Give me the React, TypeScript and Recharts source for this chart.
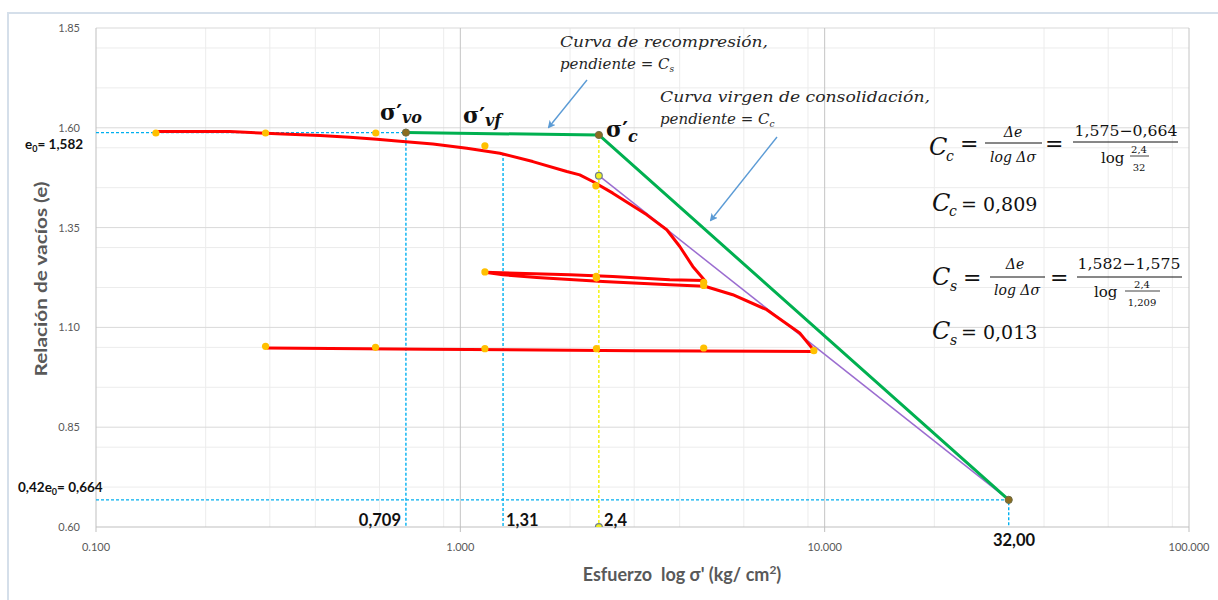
import React from 'react';
import { ScatterChart, Scatter, XAxis, YAxis, CartesianGrid } from 'recharts';

// ---------- axis ticks ----------
const xTicks = [0.1, 1, 10, 100];
const yTicks = [0.6, 0.85, 1.1, 1.35, 1.6, 1.85];
const xMinor = [0.2, 0.3, 0.4, 0.5, 0.6, 0.7, 0.8, 0.9, 2, 3, 4, 5, 6, 7, 8, 9, 20, 30, 40, 50, 60, 70, 80, 90];
const yMinor = [0.65, 0.7, 0.75, 0.8, 0.9, 0.95, 1.0, 1.05, 1.15, 1.2, 1.25, 1.3, 1.4, 1.45, 1.5, 1.55, 1.65, 1.7, 1.75, 1.8];
const xMajor = [1, 10, 100];
const yMajor = [0.85, 1.1, 1.35, 1.6, 1.85];

// ---------- red test curve (loading, unloading, reloading, unloading) ----------
const redSigma = [0.146, 0.233, 0.326, 0.412, 0.497, 0.59, 0.67, 0.841, 1.042, 1.284, 1.581, 1.96, 2.127, 2.309, 2.621, 3.25, 3.686, 4.002, 4.345, 4.688,
  3.757, 2.621, 1.997, 1.168,
  1.308, 1.621, 2.46, 3.757, 4.688, 5.593, 6.934, 8.541, 9.389,
  3.01, 0.809, 0.294];
const redE = [1.5905, 1.5905, 1.5847, 1.5805, 1.5765, 1.5715, 1.5672, 1.5597, 1.549, 1.5364, 1.5154, 1.4904, 1.4821, 1.4654, 1.4363, 1.382, 1.3445, 1.3027, 1.2527, 1.2176,
  1.2194, 1.2276, 1.2319, 1.2381,
  1.2319, 1.2251, 1.2151, 1.2069, 1.2031, 1.1819, 1.1443, 1.086, 1.0399,
  1.0412, 1.0454, 1.0484];

// ---------- measured points (orange markers) ----------
const dotSigma = [0.146, 0.292, 0.586, 1.168, 2.355, 4.656, 2.36, 1.168, 2.364, 4.656, 9.34, 4.656, 2.364, 1.168, 0.585, 0.292];
const dotE = [1.587, 1.587, 1.587, 1.555, 1.4546, 1.213, 1.2276, 1.2389, 1.2236, 1.205, 1.0417, 1.0484, 1.0467, 1.0467, 1.05, 1.0525];

// ---------- construction lines ----------
const greenSigma = [0.709, 2.4, 32];
const greenE = [1.588, 1.582, 0.668];
const purpleSigma = [2.4, 32];
const purpleE = [1.48, 0.668];
const dashE0Sigma = [0.1, 0.709, 0.709];
const dashE0E = [1.588, 1.588, 0.6];
const dash131Sigma = [1.31, 1.31];
const dash131E = [1.537, 0.6];
const dashEndSigma = [0.1, 32, 32];
const dashEndE = [0.668, 0.668, 0.6];
const yellowSigma = [2.4, 2.4];
const yellowE = [1.582, 0.6];
const keySigma = [0.709, 2.4, 32];
const keyE = [1.588, 1.582, 0.668];
const hollowSigma = [2.4, 2.4];
const hollowE = [1.48, 0.6];

const zip = (s: number[], e: number[]) => s.map((v, i) => ({ s: v, e: e[i] }));

const redCurve = zip(redSigma, redE);
const dots = zip(dotSigma, dotE);
const green = zip(greenSigma, greenE);
const purple = zip(purpleSigma, purpleE);
const dashE0 = zip(dashE0Sigma, dashE0E);
const dash131 = zip(dash131Sigma, dash131E);
const dashEnd = zip(dashEndSigma, dashEndE);
const yellow = zip(yellowSigma, yellowE);
const keyPts = zip(keySigma, keyE);
const hollowPts = zip(hollowSigma, hollowE);

const noDot = () => <g />;
const orangeDot = (p: any) => <circle cx={p.cx} cy={p.cy} r={3.6} fill="#ffc000" />;
const keyDot = (p: any) => <circle cx={p.cx} cy={p.cy} r={3.6} fill="#8c6d1f" stroke="#6b6b45" strokeWidth={1} />;
const hollowDot = (p: any) => <circle cx={p.cx} cy={p.cy} r={3.4} fill="#f0f020" stroke="#6f7f8f" strokeWidth={1.2} />;

const serif = "'DejaVu Serif', 'Liberation Serif', serif";
const sans = "Lato, 'Open Sans', 'Liberation Sans', sans-serif";
const ink = '#262626';

export default function App() {
  return (
    <div style={{ position: 'absolute', left: 0, top: 0, width: 1218, height: 600, overflow: 'hidden', background: '#fff' }}>
      <div style={{ position: 'absolute', left: 7, top: 12, width: 1240, height: 620, border: '2px solid #d5dfea', boxSizing: 'border-box' }} />
      <div style={{ position: 'absolute', left: 0, top: 0 }}>
        <ScatterChart width={1218} height={600} margin={{ top: 28, right: 29, bottom: 0, left: 0 }}>
          <CartesianGrid stroke="#ececec" horizontalValues={yMinor} verticalValues={xMinor} />
          <CartesianGrid stroke="#d9d9d9" horizontalValues={yMajor} vertical={false} />
          <CartesianGrid stroke="#c4c4c4" verticalValues={xMajor} horizontal={false} />
          <XAxis
            type="number"
            dataKey="s"
            scale="log"
            domain={[0.1, 100]}
            allowDataOverflow
            ticks={xTicks}
            tickFormatter={(v: number) => v.toFixed(3)}
            height={73}
            stroke="#bfbfbf"
            tickSize={5}
            tickMargin={11}
            tick={{ fill: '#595959', fontSize: 11, fontFamily: sans }}
          />
          <YAxis
            type="number"
            dataKey="e"
            domain={[0.6, 1.85]}
            allowDataOverflow
            ticks={yTicks}
            tickFormatter={(v: number) => v.toFixed(2)}
            width={96}
            stroke="#bfbfbf"
            tickLine={false}
            tickSize={6}
            tickMargin={10}
            tick={{ fill: '#595959', fontSize: 11, fontFamily: sans }}
          />
          <Scatter data={dashE0} fill="#00b0f0" line={{ stroke: '#00b0f0', strokeWidth: 1.4, strokeDasharray: '3 2' }} lineType="joint" shape={noDot} isAnimationActive={false} />
          <Scatter data={dash131} fill="#00b0f0" line={{ stroke: '#00b0f0', strokeWidth: 1.4, strokeDasharray: '3 2' }} lineType="joint" shape={noDot} isAnimationActive={false} />
          <Scatter data={dashEnd} fill="#00b0f0" line={{ stroke: '#00b0f0', strokeWidth: 1.4, strokeDasharray: '3 2' }} lineType="joint" shape={noDot} isAnimationActive={false} />
          <Scatter data={yellow} fill="#ffff00" line={{ stroke: '#f2f200', strokeWidth: 1.4, strokeDasharray: '3 2' }} lineType="joint" shape={noDot} isAnimationActive={false} />
          <Scatter data={purple} fill="#9b6dd0" line={{ stroke: '#9b6dd0', strokeWidth: 1.5 }} lineType="joint" shape={noDot} isAnimationActive={false} />
          <Scatter data={redCurve} fill="#ff0000" line={{ stroke: '#ff0000', strokeWidth: 3, strokeLinejoin: 'round' }} lineType="joint" shape={noDot} isAnimationActive={false} />
          <Scatter data={green} fill="#00b050" line={{ stroke: '#00b050', strokeWidth: 3, strokeLinejoin: 'round' }} lineType="joint" shape={noDot} isAnimationActive={false} />
          <Scatter data={dots} fill="#ffc000" shape={orangeDot} isAnimationActive={false} />
          <Scatter data={keyPts} fill="#8c6d1f" shape={keyDot} isAnimationActive={false} />
          <Scatter data={hollowPts} fill="#f0f020" shape={hollowDot} isAnimationActive={false} />
        </ScatterChart>
      </div>
      <svg width={1218} height={600} style={{ position: 'absolute', left: 0, top: 0, pointerEvents: 'none' }}>
        <defs>
          <marker id="ah" markerWidth="8" markerHeight="8" refX="6" refY="4" orient="auto" markerUnits="userSpaceOnUse">
            <path d="M0,0 L8,4 L0,8 L2,4 Z" fill="#5b9bd5" />
          </marker>
        </defs>
        {/* axis titles */}
        <text x={682} y={581} textAnchor="middle" fontFamily={sans} fontWeight="bold" fontSize={18} fill="#595959" style={{ whiteSpace: 'pre' }}>
          {'Esfuerzo  log σ\' (kg/ cm'}<tspan dy={-7} fontSize={12}>2</tspan><tspan dy={7}>)</tspan>
        </text>
        <text transform="rotate(-90)" x={-279} y={47} textAnchor="middle" fontFamily={sans} fontWeight="bold" fontSize={17} fill="#595959" textLength={195} lengthAdjust="spacingAndGlyphs">
          Relación de vacíos (e)
        </text>

        {/* value labels */}
        <text x={25} y={149} fontFamily={sans} fontWeight="bold" fontSize={13.5} fill="#111">e<tspan fontSize={9} dy={3}>0</tspan><tspan dy={-3}>= 1,582</tspan></text>
        <text x={18} y={492} fontFamily={sans} fontWeight="bold" fontSize={13.5} fill="#111">0,42e<tspan fontSize={9} dy={3}>0</tspan><tspan dy={-3}>= 0,664</tspan></text>
        <text x={401} y={526} textAnchor="end" fontFamily={sans} fontWeight="bold" fontSize={16.5} fill="#111">0,709</text>
        <text x={506} y={526} fontFamily={sans} fontWeight="bold" fontSize={16.5} fill="#111">1,31</text>
        <text x={604} y={526} fontFamily={sans} fontWeight="bold" fontSize={16.5} fill="#111">2,4</text>
        <text x={1014} y={546} textAnchor="middle" fontFamily={sans} fontWeight="bold" fontSize={16.5} fill="#111">32,00</text>

        {/* sigma labels */}
        <text x={380} y={120} fontFamily={serif} fontWeight="bold" fontSize={22} fill="#111">σ′<tspan fontSize={16} fontStyle="italic" dy={3}>vo</tspan></text>
        <text x={463} y={123} fontFamily={serif} fontWeight="bold" fontSize={22} fill="#111">σ′<tspan fontSize={16} fontStyle="italic" dy={3}>vf</tspan></text>
        <text x={606} y={137} fontFamily={serif} fontWeight="bold" fontSize={22} fill="#111">σ′<tspan fontSize={16} fontStyle="italic" dy={5}>c</tspan></text>

        {/* annotations */}
        <text x={560} y={47} fontFamily={serif} fontStyle="italic" fontSize={15} fill={ink} textLength={208} lengthAdjust="spacingAndGlyphs">Curva de recompresión,</text>
        <text x={560} y={69} fontFamily={serif} fontStyle="italic" fontSize={15} fill={ink}>pendiente = C<tspan fontSize={9} dy={3}>s</tspan></text>
        <line x1={587} y1={80} x2={549} y2={127} stroke="#5b9bd5" strokeWidth={1.4} markerEnd="url(#ah)" />
        <text x={660} y={102} fontFamily={serif} fontStyle="italic" fontSize={15} fill={ink} textLength={270} lengthAdjust="spacingAndGlyphs">Curva virgen de consolidación,</text>
        <text x={660} y={124} fontFamily={serif} fontStyle="italic" fontSize={15} fill={ink}>pendiente = C<tspan fontSize={9} dy={3}>c</tspan></text>
        <line x1={777} y1={137} x2={711} y2={220} stroke="#5b9bd5" strokeWidth={1.4} markerEnd="url(#ah)" />

        {/* Cc formula */}
        <g fontFamily={serif} fill="#111">
          <text x={929} y={155} fontSize={24} fontStyle="italic">C</text>
          <text x={946} y={161} fontSize={14} fontStyle="italic">c</text>
          <text x={960} y={151} fontSize={22}>=</text>
          <text x={1013} y={137} fontSize={14} fontStyle="italic" textAnchor="middle">Δe</text>
          <line x1={985} y1={143} x2={1042} y2={143} stroke="#111" strokeWidth={1} />
          <text x={1013} y={162} fontSize={14} fontStyle="italic" textAnchor="middle">log Δσ</text>
          <text x={1045} y={151} fontSize={22}>=</text>
          <text x={1126} y={136} fontSize={15} textAnchor="middle" textLength={103} lengthAdjust="spacingAndGlyphs">1,575−0,664</text>
          <line x1={1073} y1={142} x2={1178} y2={142} stroke="#111" strokeWidth={1} />
          <text x={1101} y={163} fontSize={15}>log</text>
          <text x={1139} y={153} fontSize={10} textAnchor="middle">2,4</text>
          <line x1={1130} y1={156} x2={1149} y2={156} stroke="#111" strokeWidth={0.8} />
          <text x={1139} y={171} fontSize={10} textAnchor="middle">32</text>

          <text x={932} y={211} fontSize={24} fontStyle="italic">C</text>
          <text x={949} y={216} fontSize={14} fontStyle="italic">c</text>
          <text x={961} y={211} fontSize={19}>= 0,809</text>

          {/* Cs formula */}
          <text x={932} y={285} fontSize={24} fontStyle="italic">C</text>
          <text x={950} y={291} fontSize={14} fontStyle="italic">s</text>
          <text x={963} y={285} fontSize={22}>=</text>
          <text x={1015} y={269} fontSize={14} fontStyle="italic" textAnchor="middle">Δe</text>
          <line x1={990} y1={277} x2={1045} y2={277} stroke="#111" strokeWidth={1} />
          <text x={1017} y={295} fontSize={14} fontStyle="italic" textAnchor="middle">log Δσ</text>
          <text x={1050} y={285} fontSize={22}>=</text>
          <text x={1129} y={269} fontSize={15} textAnchor="middle" textLength={103} lengthAdjust="spacingAndGlyphs">1,582−1,575</text>
          <line x1={1077} y1={277} x2={1182} y2={277} stroke="#111" strokeWidth={1} />
          <text x={1094} y={297} fontSize={15}>log</text>
          <text x={1142} y={288} fontSize={10} textAnchor="middle">2,4</text>
          <line x1={1125} y1={291} x2={1160} y2={291} stroke="#111" strokeWidth={0.8} />
          <text x={1142} y={306} fontSize={10} textAnchor="middle">1,209</text>

          <text x={932} y={339} fontSize={24} fontStyle="italic">C</text>
          <text x={950} y={345} fontSize={14} fontStyle="italic">s</text>
          <text x={961} y={339} fontSize={19}>= 0,013</text>
        </g>
      </svg>
    </div>
  );
}
